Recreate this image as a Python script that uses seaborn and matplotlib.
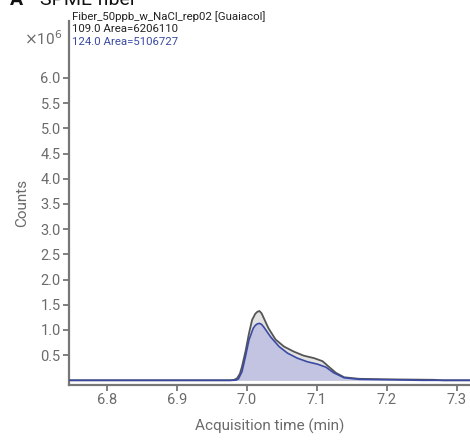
import matplotlib
matplotlib.use("Agg")
import matplotlib.pyplot as plt
import seaborn as sns
import pandas as pd

# ---- data ----
time_109 = [6.740, 6.976, 6.982, 6.986, 6.990, 6.993, 6.998, 7.003, 7.0075, 7.012,
            7.015, 7.018, 7.021, 7.024, 7.031, 7.041, 7.053, 7.067, 7.081, 7.096,
            7.108, 7.117, 7.127, 7.139, 7.160, 7.196, 7.267, 7.280, 7.330]
counts_109 = [0.0, 0.0, 0.01, 0.04, 0.13, 0.27, 0.57, 0.93, 1.20, 1.32,
              1.36, 1.375, 1.33, 1.24, 1.03, 0.81, 0.67, 0.57, 0.49, 0.44,
              0.38, 0.27, 0.15, 0.06, 0.03, 0.02, 0.01, 0.0, 0.0]

time_124 = [6.740, 6.980, 6.985, 6.988, 6.993, 6.998, 7.003, 7.009, 7.012, 7.015,
            7.018, 7.021, 7.024, 7.034, 7.046, 7.058, 7.072, 7.086, 7.101, 7.113,
            7.124, 7.139, 7.160, 7.210, 7.250, 7.330]
counts_124 = [0.0, 0.0, 0.005, 0.03, 0.17, 0.47, 0.80, 1.03, 1.09, 1.12,
              1.13, 1.11, 1.06, 0.86, 0.67, 0.54, 0.44, 0.37, 0.32, 0.26,
              0.15, 0.05, 0.02, 0.01, 0.0, 0.0]

x_ticks = [6.8, 6.9, 7.0, 7.1, 7.2, 7.3]
y_ticks = [0.5, 1.0, 1.5, 2.0, 2.5, 3.0, 3.5, 4.0, 4.5, 5.0, 5.5, 6.0]

sample_name = "Fiber_50ppb_w_NaCl_rep02 [Guaiacol]"
legend_109 = "109.0 Area=6206110"
legend_124 = "124.0 Area=5106727"

df109 = pd.DataFrame({"t": time_109, "c": counts_109})
df124 = pd.DataFrame({"t": time_124, "c": counts_124})

sns.set_style("ticks")
plt.rcParams["font.family"] = ["Roboto", "DejaVu Sans"]

fig = plt.figure(figsize=(4.7, 4.4), dpi=100)
ax = fig.add_axes([69/470, 55/440, 1 - 69/470 + 0.002, (385-21)/440])

grey_line = "#555555"
grey_fill = "#e2e2e2"
blue_line = "#3b4aa3"
blue_fill = "#c3c3e2"

ax.fill_between(df109["t"], df109["c"], 0, color=grey_fill, lw=0, zorder=1)
sns.lineplot(data=df109, x="t", y="c", ax=ax, color=grey_line, lw=1.3, zorder=2)
ax.fill_between(df124["t"], df124["c"], 0, color=blue_fill, lw=0, zorder=3)
sns.lineplot(data=df124, x="t", y="c", ax=ax, color=blue_line, lw=1.2, zorder=4)

ax.set_xlim(6.746, 7.320)
ax.set_ylim(-0.093, 7.13)
ax.set_xticks(x_ticks)
ax.set_xticklabels([f"{v:.1f}" for v in x_ticks])
ax.set_yticks(y_ticks)
ax.set_yticklabels([f"{v:.1f}" for v in y_ticks])

tick_col = "#6b6b6b"
ax.tick_params(axis="both", colors=tick_col, labelcolor=tick_col, labelsize=10.5,
               length=4, width=1.2, direction="out", pad=2)
for s in ["top", "right"]:
    ax.spines[s].set_visible(False)
for s in ["left", "bottom"]:
    ax.spines[s].set_color("#777777")
    ax.spines[s].set_linewidth(1.6)

ax.set_xlabel("Acquisition time (min)", color=tick_col, fontsize=11, labelpad=8)
ax.set_ylabel("Counts", color=tick_col, fontsize=11, labelpad=8)

# header texts
fig.text(72/470, 1 - 20/440, sample_name, fontsize=8.2, color="#222222", va="baseline")
fig.text(72/470, 1 - 32/440, legend_109, fontsize=8.2, color="#222222", va="baseline")
fig.text(72/470, 1 - 45/440, legend_124, fontsize=8.2, color="#3b4aa3", va="baseline")
fig.text(62/470, 1 - 45/440, r"$\times$10$^6$", fontsize=11, color=tick_col,
         va="baseline", ha="right")

# panel title (cut at the top edge, as in the reference)
fig.text(10/470, 1 - 5/440, "A", fontsize=14, fontweight="bold", color="#111111", va="baseline")
fig.text(40/470, 1 - 5/440, "SPME fiber", fontsize=14, color="#111111", va="baseline")

fig.savefig("out.png", dpi=100)
